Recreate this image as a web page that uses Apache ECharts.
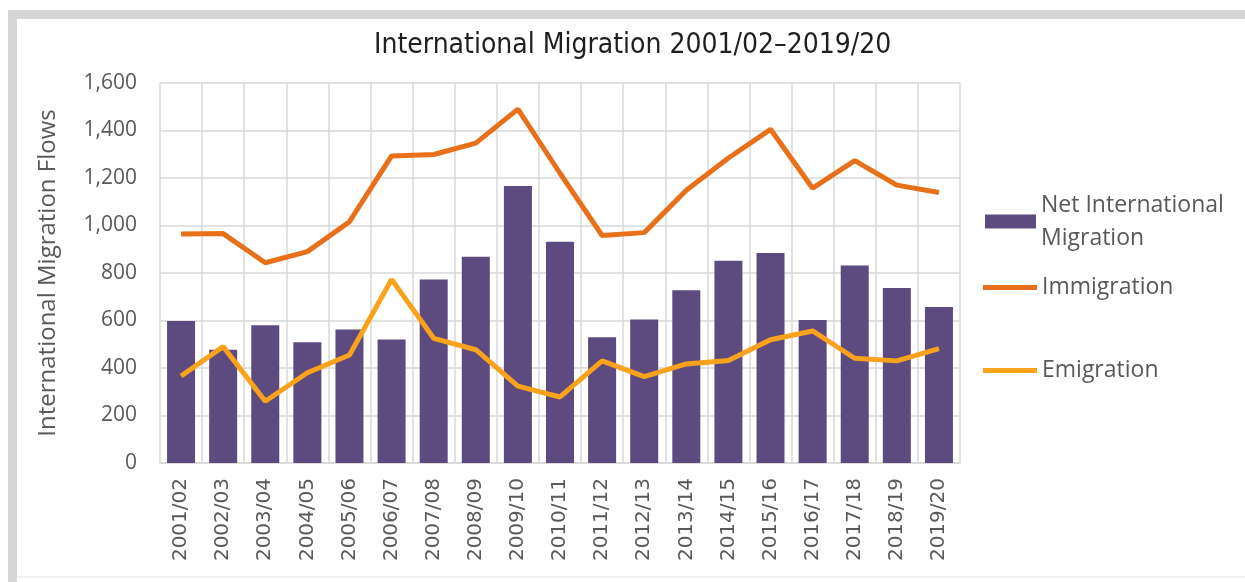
<!DOCTYPE html>
<html>
<head>
<meta charset="utf-8">
<title>International Migration 2001/02–2019/20</title>
<script src="https://cdn.jsdelivr.net/npm/echarts@6/dist/echarts.min.js"></script>
<style>
  html, body { margin: 0; padding: 0; background: #ffffff; }
  #chart { width: 1245px; height: 582px; }
</style>
</head>
<body>
<div id="chart"></div>
<script>
// Financial years shown along the x axis
const years = ['2001/02', '2002/03', '2003/04', '2004/05', '2005/06', '2006/07', '2007/08',
  '2008/09', '2009/10', '2010/11', '2011/12', '2012/13', '2013/14', '2014/15', '2015/16',
  '2016/17', '2017/18', '2018/19', '2019/20'];

// Net international migration (bars)
const netMigration = [598, 477, 580, 508, 562, 520, 773, 868, 1166, 932, 530, 604, 727, 852, 884, 602, 832, 737, 657];

// Immigration and emigration flows (lines)
const immigration = [964, 966, 843, 890, 1016, 1293, 1299, 1347, 1490, 1220, 958, 970, 1148, 1284, 1405, 1157, 1273, 1170, 1139];
const emigration = [366, 490, 260, 380, 455, 773, 525, 477, 324, 278, 430, 364, 417, 432, 519, 556, 441, 430, 482];

// Value axis ticks
const yMin = 0, yMax = 1600, yStep = 200;

const textGrey = '#595959';
const gridGrey = '#d9d9d9';
const netColor = '#5d4a7e';
const immColor = '#e8701a';
const emiColor = '#f9a21c';

const chart = echarts.init(document.getElementById('chart'), null, { renderer: 'canvas' });

chart.setOption({
  backgroundColor: '#ffffff',
  animation: false,
  title: {
    text: 'International Migration 2001/02–2019/20',
    left: 374,
    top: 32,
    padding: 0,
    textStyle: { fontFamily: 'DejaVu Sans Condensed', fontSize: 28, fontWeight: 'normal', color: '#1f1f1f' }
  },
  graphic: [
    { type: 'rect', shape: { x: 8, y: 10, width: 1237, height: 9 }, style: { fill: '#d6d6d6' }, silent: true },
    { type: 'rect', shape: { x: 8, y: 10, width: 9, height: 572 }, style: { fill: '#d6d6d6' }, silent: true },
    { type: 'rect', shape: { x: 17, y: 576, width: 1228, height: 2 }, style: { fill: '#f1f1f1' }, silent: true }
  ],
  legend: [
    {
      data: ['Net International Migration'],
      orient: 'vertical',
      left: 985, top: 172,
      padding: 0,
      itemWidth: 51, itemHeight: 14,
      icon: 'rect',
      formatter: () => 'Net International\nMigration',
      textStyle: { fontFamily: 'Open Sans', fontSize: 23, color: textGrey, lineHeight: 33, padding: [33, 0, 0, 0] }
    },
    {
      data: [{ name: 'Immigration', icon: 'rect' }],
      orient: 'vertical',
      left: 983, top: 276,
      padding: 0,
      itemWidth: 54, itemHeight: 5,
      textStyle: { fontFamily: 'Open Sans', fontSize: 23, color: textGrey }
    },
    {
      data: [{ name: 'Emigration', icon: 'rect' }],
      orient: 'vertical',
      left: 983, top: 359,
      padding: 0,
      itemWidth: 54, itemHeight: 5,
      textStyle: { fontFamily: 'Open Sans', fontSize: 23, color: textGrey }
    }
  ],
  grid: { left: 160, right: 285, top: 83, bottom: 119, containLabel: false },
  xAxis: {
    type: 'category',
    data: years,
    boundaryGap: true,
    axisLine: { show: true, lineStyle: { color: gridGrey, width: 1.5 } },
    axisTick: { show: false },
    splitLine: { show: true, lineStyle: { color: gridGrey, width: 1.5 } },
    axisLabel: {
      rotate: 90,
      margin: 15,
      interval: 0,
      fontFamily: 'DejaVu Sans',
      fontSize: 20,
      color: textGrey
    }
  },
  yAxis: {
    type: 'value',
    min: yMin, max: yMax, interval: yStep,
    name: 'International Migration Flows',
    nameLocation: 'middle',
    nameGap: 100,
    nameTextStyle: { fontFamily: 'Open Sans', fontSize: 24, color: textGrey },
    axisLine: { show: false },
    axisTick: { show: false },
    splitLine: { show: true, lineStyle: { color: gridGrey, width: 1.5 } },
    axisLabel: {
      margin: 23,
      fontFamily: 'Open Sans',
      fontSize: 21,
      color: textGrey,
      formatter: v => v.toLocaleString('en-US')
    }
  },
  series: [
    {
      name: 'Net International Migration',
      type: 'bar',
      data: netMigration,
      barWidth: 28,
      itemStyle: { color: netColor },
      z: 2
    },
    {
      name: 'Immigration',
      type: 'line',
      data: immigration,
      showSymbol: false,
      symbol: 'none',
      lineStyle: { color: immColor, width: 5 },
      itemStyle: { color: immColor },
      z: 3
    },
    {
      name: 'Emigration',
      type: 'line',
      data: emigration,
      showSymbol: false,
      symbol: 'none',
      lineStyle: { color: emiColor, width: 5 },
      itemStyle: { color: emiColor },
      z: 4
    }
  ]
});
</script>
</body>
</html>
